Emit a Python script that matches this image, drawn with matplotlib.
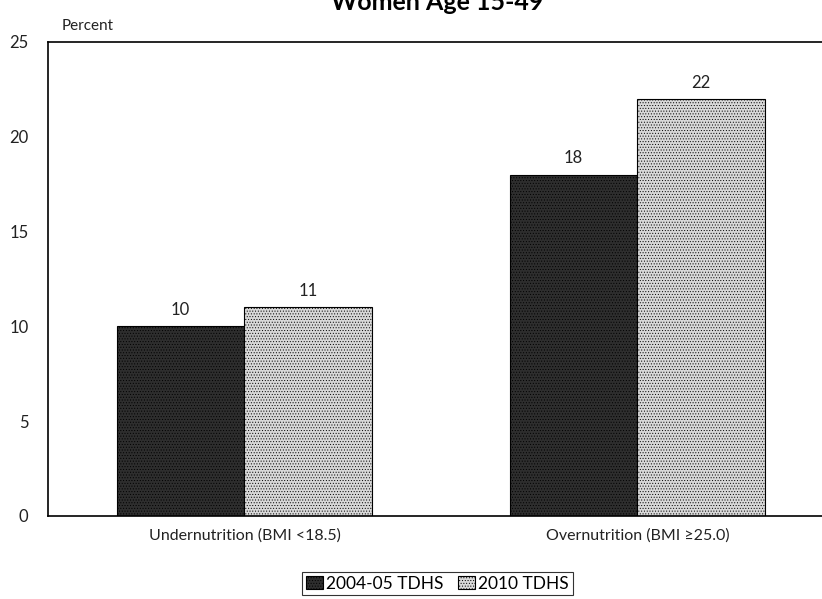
import matplotlib.pyplot as plt
import numpy as np

plt.rcParams['font.family'] = ['Lato', 'DejaVu Sans']
plt.rcParams['hatch.linewidth'] = 0.4

categories = ['Undernutrition (BMI <18.5)', 'Overnutrition (BMI \u226525.0)']
series_names = ['2004-05 TDHS', '2010 TDHS']
v2004 = [10, 18]
v2010 = [11, 22]

fig = plt.figure(figsize=(8.22, 5.99), dpi=100)
ax = fig.add_axes([0.0584, 0.1386, 0.9416, 0.7913])

x = np.arange(len(categories))
w = 0.325
b1 = ax.bar(x - w / 2, v2004, w, color='#2e2e2e', edgecolor='black', linewidth=0.8,
            hatch='......', label=series_names[0])
b2 = ax.bar(x + w / 2, v2010, w, color='#d8d8d8', edgecolor='black', linewidth=0.8,
            hatch='......', label=series_names[1])
ax.bar_label(b1, padding=6, fontsize=12, color='#222222')
ax.bar_label(b2, padding=6, fontsize=12, color='#222222')

ax.set_xlim(-0.5, 1.47)
ax.set_ylim(0, 25)
ax.set_yticks([0, 5, 10, 15, 20, 25])
ax.set_xticks(x)
ax.set_xticklabels(categories, fontsize=11.5)
ax.tick_params(axis='y', length=0, labelsize=12, pad=14, labelcolor='#222222')
ax.tick_params(axis='x', length=0, pad=9, labelcolor='#222222')
ax.spines['right'].set_visible(False)
for s in ('top', 'left', 'bottom'):
    ax.spines[s].set_linewidth(1.2)

fig.text(0.075, 0.957, 'Percent', fontsize=11, ha='left', va='center', color='#222222')
fig.text(0.532, 0.983, 'Women Age 15-49', fontsize=18, fontweight='bold',
         ha='center', va='baseline')

leg = fig.legend(loc='lower center', bbox_to_anchor=(0.532, -0.008), ncol=2,
                 fontsize=12.5, frameon=True, fancybox=False, edgecolor='black',
                 handlelength=1.0, handleheight=0.8, handletextpad=0.2,
                 columnspacing=0.8, borderpad=0.2)
leg.get_frame().set_linewidth(0.8)

fig.savefig('out.png', dpi=100)
